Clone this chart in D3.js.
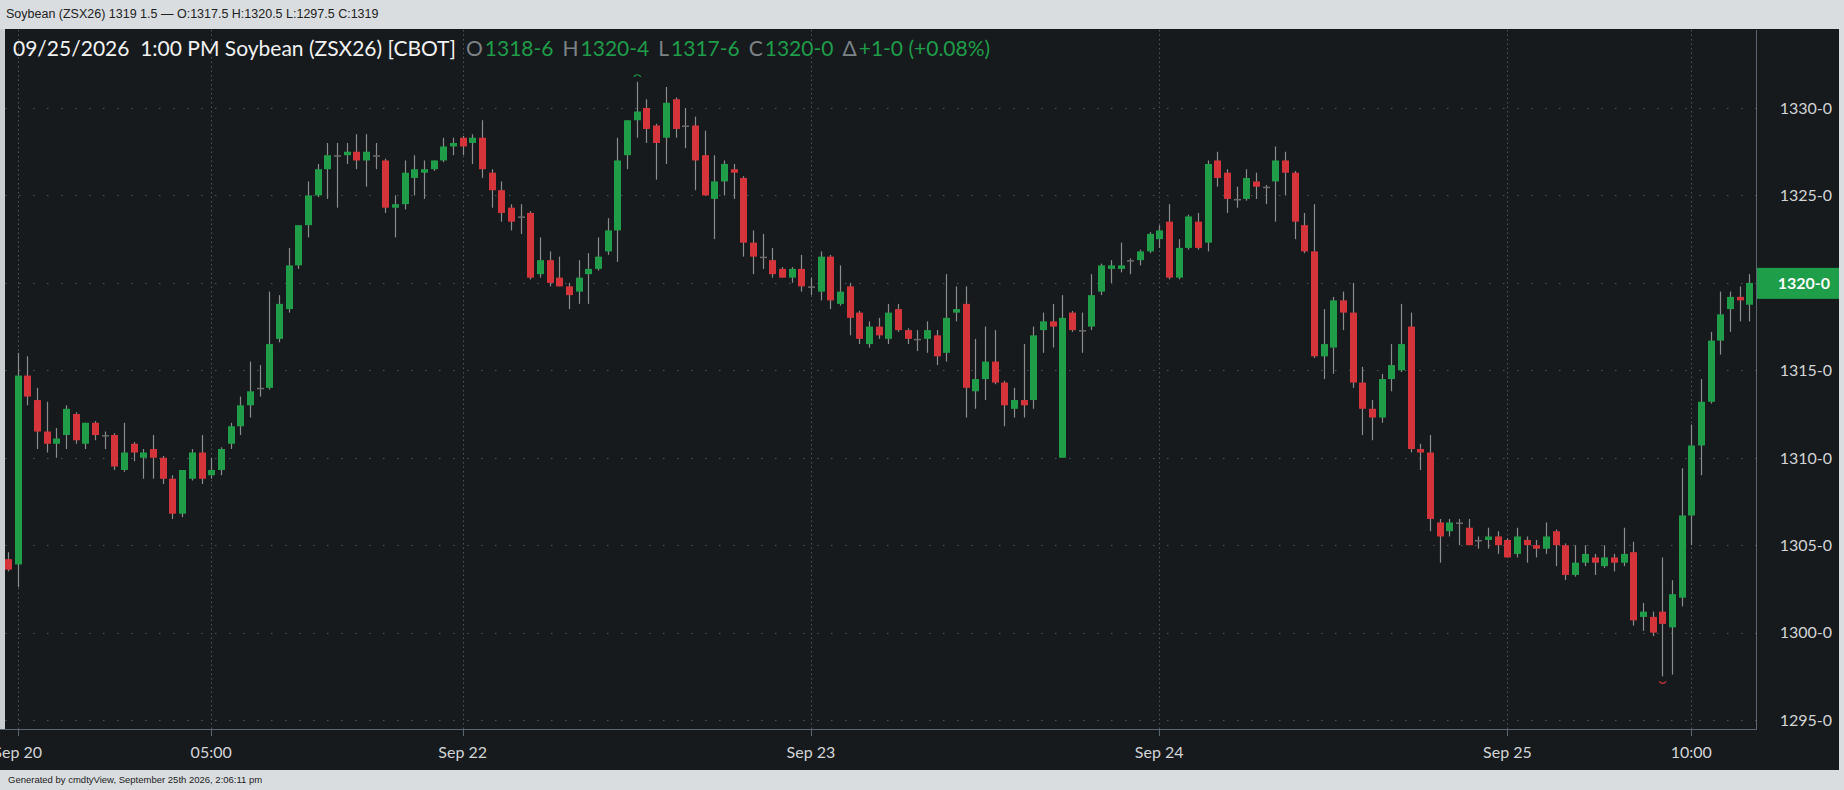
<!DOCTYPE html>
<html>
<head>
<meta charset="utf-8">
<script src="https://cdn.jsdelivr.net/npm/d3@7"></script>
<style>
  body { margin: 0; background: #d9dde0; }
  svg { display: block; }
</style>
</head>
<body>
<svg id="chart" width="1844" height="790"></svg>
<script>
// 30 minute bars, ZSX26
var opens = [1304.2,1303.9,1314.7,1313.3,1311.5,1310.8,1311.3,1312.5,1310.8,1312,1311.3,1311.3,1309.3,1310.8,1310,1310.5,1310,1308.8,1306.8,1308.8,
1310.3,1309,1309.3,1310.8,1311.8,1313,1314,1314,1316.8,1318.5,1321,1323.3,1325,1326.5,1327.3,1327.3,1327.5,1327,1327.3,1327,
1324.3,1324.5,1326,1326.3,1326.5,1327,1327.8,1328.3,1328,1328.3,1326.3,1325.3,1324.3,1323.8,1324,1320.5,1321.3,1320.3,1319.8,1319.5,
1320.5,1320.8,1321.8,1323,1327.3,1329.3,1330,1329,1328.3,1330.5,1329,1329,1327.3,1324.8,1325.8,1326.5,1326,1322.3,1321.5,1321.3,
1320.8,1320.3,1320.8,1319.8,1319.5,1321.5,1318.8,1319.8,1318.3,1316.5,1317.5,1316.8,1318.5,1317.3,1316.8,1316.8,1317,1316,1318.3,1318.8,
1313.8,1314.5,1315.5,1314.3,1312.8,1313.3,1313.3,1317.3,1317.8,1310,1318.3,1317.3,1317.5,1319.5,1320.8,1320.8,1321.3,1321.3,1321.8,1322.5,
1323.5,1320.3,1322,1323.5,1322.3,1327,1326.3,1324.8,1324.8,1325.8,1325.5,1325.8,1327,1326.3,1323.3,1321.8,1315.8,1316.3,1319,1318.3,
1314.3,1312.8,1312.3,1314.5,1315,1317.5,1310.5,1310.3,1306.3,1305.8,1306.3,1306,1305.3,1305.3,1305.5,1305.3,1304.5,1305.3,1305,1304.8,
1305.8,1305,1303.3,1304,1304.3,1303.8,1304.3,1304,1304.6,1300.9,1300.9,1301.2,1300.3,1302,1306.7,1310.7,1313.2,1316.7,1318.5,1319.2,1318.75];
var highs = [1304.6,1316,1315.8,1314,1313.2,1311.7,1313,1312.6,1312,1312.1,1311.5,1311.4,1312,1310.9,1310.5,1311.3,1310.1,1309,1309.3,1310.5,
1311.3,1310,1310.6,1312,1313.5,1315.5,1315.3,1319.5,1319.3,1322,1323.3,1325.8,1326.8,1328,1328,1328,1328.5,1328.5,1328,1327.1,
1325,1327,1327.3,1327,1327,1328.3,1328.3,1328.4,1328.5,1329.3,1326.5,1325.8,1324.5,1324.5,1324.1,1322.6,1321.8,1321.5,1320,1321.3,
1321.7,1322.6,1323.7,1328.3,1329.3,1331.5,1330.5,1329.1,1331.2,1330.6,1330,1329.5,1328.7,1327.3,1327,1326.8,1326.1,1323,1322.8,1322,
1320.9,1320.9,1321.6,1320.3,1321.8,1321.6,1321,1320,1318.4,1317.8,1318,1318.8,1318.8,1317.4,1317.3,1317.8,1317.3,1320.5,1319.8,1319.8,
1316.8,1317.5,1317.3,1314.4,1314,1316.5,1317.5,1318.3,1318.8,1319.3,1318.4,1318.3,1320.5,1321.1,1321.3,1322.3,1321.4,1321.9,1322.9,1323.3,
1324.5,1322.5,1323.9,1324,1327,1327.5,1326.5,1325.5,1326.5,1326.3,1325.6,1327.8,1327.5,1326.4,1324,1324.5,1318.5,1319.2,1319.5,1320,
1315.2,1313.3,1314.8,1316.5,1318.8,1318.3,1310.8,1311.3,1306.5,1306.5,1306.5,1306.5,1305.5,1306,1305.8,1305.4,1306,1305.5,1305.3,1306.3,
1305.9,1305.1,1305,1305,1304.5,1305,1304.5,1306,1305.2,1301.7,1301.2,1304.3,1303,1309.4,1311.9,1314.5,1317.2,1319.5,1319.5,1319.8,1320.5];
var lows = [1303.5,1302.6,1313,1310.5,1310.3,1310,1310.5,1310.8,1310.5,1311,1310.5,1309.3,1309.2,1309.8,1308.8,1308.8,1308.5,1306.5,1306.6,1308.7,
1308.5,1308.8,1309,1310.5,1311.3,1312.3,1313.5,1313.9,1316.6,1318.3,1320.8,1322.6,1324.9,1324.8,1324.3,1326.8,1326.5,1325.5,1326.5,1324,
1322.6,1324.2,1325,1324.8,1326.4,1326.9,1327.3,1327.3,1326.8,1326,1324.3,1323.5,1323,1322.8,1320.2,1320.3,1319.8,1319.8,1318.5,1318.8,
1318.8,1320.7,1321.6,1321.2,1326.5,1328.3,1328,1325.9,1326.8,1328.3,1327.7,1325.3,1325,1322.5,1325,1324.8,1321.5,1320.5,1320.8,1320.3,
1320.3,1320,1319.5,1319.3,1319,1318.5,1318.7,1317,1316.5,1316.3,1316.8,1316.5,1317.2,1316.5,1316.1,1316,1315.3,1315.5,1317.8,1312.3,
1312.8,1313.3,1314.2,1311.8,1312.3,1312.3,1312.8,1316,1316.3,1310,1317.2,1316,1317.3,1319.3,1320,1320.6,1320.5,1321,1321.7,1322,
1320.2,1320.2,1321.9,1321.9,1321.8,1325.5,1324,1324.3,1324.7,1324.8,1324.5,1323.5,1325,1322.5,1321.7,1315.7,1314.5,1314.8,1317.3,1314,
1311.3,1311,1312,1313.8,1314.9,1310.3,1309.3,1305.8,1304,1305.5,1305,1305,1304.8,1304.8,1304.5,1304.3,1304.3,1304,1304.3,1304.5,
1303.8,1303,1303.2,1303.8,1303.3,1303.7,1303.5,1303.8,1300.4,1300.1,1299.8,1297.5,1297.6,1301.5,1305,1309,1313.1,1315.9,1317.2,1317.8,1317.8];
var closes = [1303.6,1314.7,1313.5,1311.5,1310.8,1311.1,1312.8,1311,1312,1311.3,1311.3,1309.5,1310.3,1310.3,1310.3,1310,1308.8,1306.8,1309.3,1310.3,
1308.8,1309.3,1310.5,1311.8,1313,1313.8,1314,1316.5,1318.8,1321,1323.3,1325,1326.5,1327.3,1327.3,1327.5,1327,1327.5,1327.3,1324.3,
1324.5,1326.3,1326.5,1326.5,1327,1327.8,1328,1327.8,1328.3,1326.5,1325.3,1324,1323.5,1323.8,1320.3,1321.3,1320,1319.8,1319.3,1320.3,
1320.8,1321.5,1323,1327,1329.3,1329.8,1328.8,1328,1330.3,1328.8,1329,1327,1325,1325.8,1326.8,1326.3,1322.3,1321.5,1321.5,1320.5,
1320.3,1320.8,1319.8,1319.8,1321.5,1319,1319.5,1318,1316.8,1317.5,1317,1318.3,1317.3,1316.8,1316.8,1317.3,1315.8,1318,1318.5,1314,
1314.5,1315.5,1314.3,1313,1313.3,1313,1317,1317.8,1317.5,1318,1317.3,1317.3,1319.3,1321,1321,1321,1321.3,1321.8,1322.8,1323,
1320.3,1322,1323.8,1322,1326.8,1326,1324.8,1324.8,1326,1325.5,1325.5,1327,1326.3,1323.5,1321.8,1315.8,1316.5,1319,1318.3,1314.3,
1312.8,1312.3,1314.5,1315.3,1316.5,1310.5,1310.3,1306.5,1305.5,1306.3,1306.3,1305,1305.3,1305.5,1305,1304.3,1305.5,1305,1304.8,1305.5,
1305,1303.3,1304,1304.5,1304,1304.3,1304,1304.5,1300.7,1301.2,1300,1300.5,1302.2,1306.7,1310.7,1313.2,1316.7,1318.2,1319.2,1319,1320];

var yTicks = [1295, 1300, 1305, 1310, 1315, 1320, 1325, 1330];
var xTickIdx = [1, 21, 47, 83, 119, 155, 174];
var xTickLabels = ["Sep 20", "05:00", "Sep 22", "Sep 23", "Sep 24", "Sep 25", "10:00"];
var lastPrice = 1320;

var bars = opens.map(function(o, i) {
  return {i: i, o: o, h: highs[i], l: lows[i], c: closes[i]};
});

var GREEN = "#1f9d49", RED = "#d5343b", WICK = "#8b8b8b", GRID = "#4b5560";
var plotL = 5, plotR = 1756, plotT = 30, plotB = 729;

var svg = d3.select("#chart");
svg.append("text").attr("x", 6).attr("y", 18)
  .attr("font-family", "Liberation Sans Narrow, Liberation Sans, sans-serif").attr("font-size", 12.5).attr("fill", "#222")
  .text("Soybean (ZSX26) 1319 1.5 \u2014 O:1317.5 H:1320.5 L:1297.5 C:1319");

svg.append("rect").attr("x", 0).attr("y", 29).attr("width", 1839).attr("height", 741).attr("fill", "#161a1d");

var x = d3.scaleLinear().domain([1, 180]).range([17.7, 1749.3]);
var y = d3.scaleLinear().domain([1294.49, 1334.46]).range([plotB, plotT]);

var clip = svg.append("clipPath").attr("id", "plotclip");
clip.append("rect").attr("x", plotL).attr("y", plotT).attr("width", plotR - plotL).attr("height", plotB - plotT);

// grid
var grid = svg.append("g");
grid.selectAll("line.h").data(yTicks).enter().append("line")
  .attr("x1", plotL).attr("x2", plotR).attr("y1", d => Math.round(y(d)) + 0.5).attr("y2", d => Math.round(y(d)) + 0.5)
  .attr("stroke", GRID).attr("stroke-dasharray", "1.5,12.5");
grid.selectAll("line.v").data(xTickIdx).enter().append("line")
  .attr("y1", plotT).attr("y2", plotB).attr("x1", d => Math.round(x(d)) + 0.5).attr("x2", d => Math.round(x(d)) + 0.5)
  .attr("stroke", GRID).attr("stroke-dasharray", "1.5,3");

// candles
var g = svg.append("g").attr("clip-path", "url(#plotclip)");
var bw = 7;
g.selectAll("line.wick").data(bars).enter().append("line")
  .attr("x1", d => Math.round(x(d.i)) + 0.5).attr("x2", d => Math.round(x(d.i)) + 0.5)
  .attr("y1", d => y(d.h)).attr("y2", d => y(d.l))
  .attr("stroke", WICK).attr("stroke-width", 1.2);
g.selectAll("rect.body").data(bars).enter().append("rect")
  .attr("x", d => Math.round(x(d.i)) + 0.5 - bw / 2)
  .attr("width", bw)
  .attr("y", d => y(Math.max(d.o, d.c)))
  .attr("height", d => Math.max(1.5, Math.abs(y(d.o) - y(d.c))))
  .attr("fill", d => Math.abs(d.o - d.c) < 0.05 ? "#6c6c6c" : (d.c > d.o ? GREEN : RED));

// high / low markers
var hiIdx = d3.maxIndex(highs), loIdx = d3.minIndex(lows);
svg.append("path")
  .attr("d", "M" + (x(hiIdx) - 3) + "," + (y(highs[hiIdx]) - 5) + " q3.5,-4 7,0")
  .attr("fill", "none").attr("stroke", GREEN).attr("stroke-width", 1.2);
svg.append("path")
  .attr("d", "M" + (x(loIdx) - 3) + "," + (y(lows[loIdx]) + 5) + " q3.5,4 7,0")
  .attr("fill", "none").attr("stroke", RED).attr("stroke-width", 1.2);

// plot frame
svg.append("line").attr("x1", plotR + 0.5).attr("x2", plotR + 0.5).attr("y1", plotT).attr("y2", plotB)
  .attr("stroke", "#5b6670");
svg.append("line").attr("x1", 0).attr("x2", plotR + 1).attr("y1", plotB + 0.5).attr("y2", plotB + 0.5)
  .attr("stroke", "#5b6670");

// y axis labels
svg.append("g").selectAll("text").data(yTicks).enter().append("text")
  .attr("x", 1832).attr("y", d => y(d)).attr("dy", "0.36em").attr("text-anchor", "end")
  .attr("font-family", "Lato, sans-serif").attr("font-size", 16).attr("fill", "#d2d4d6")
  .text(d => d + "-0");

// x axis
var xa = svg.append("g");
xa.selectAll("line").data(xTickIdx).enter().append("line")
  .attr("x1", d => Math.round(x(d)) + 0.5).attr("x2", d => Math.round(x(d)) + 0.5)
  .attr("y1", plotB).attr("y2", plotB + 7).attr("stroke", "#5b6670");
xa.selectAll("text").data(xTickIdx).enter().append("text")
  .attr("x", d => x(d)).attr("y", 758).attr("text-anchor", "middle")
  .attr("font-family", "Lato, sans-serif").attr("font-size", 16).attr("fill", "#d2d4d6")
  .text((d, i) => xTickLabels[i]);

// last price tag
svg.append("rect").attr("x", plotR + 1).attr("y", y(lastPrice) - 15).attr("width", 82).attr("height", 31).attr("fill", "#1e9e48");
svg.append("text").attr("x", 1830).attr("y", y(lastPrice)).attr("dy", "0.36em").attr("text-anchor", "end")
  .attr("font-family", "Lato, sans-serif").attr("font-size", 16).attr("font-weight", "bold").attr("fill", "#fff")
  .text(lastPrice + "-0");

// left strip
svg.append("rect").attr("x", 0).attr("y", 29).attr("width", plotL).attr("height", plotB - 29).attr("fill", "#c9cdd0");

// header
var head = svg.append("text").attr("x", 13).attr("y", 56)
  .attr("font-family", "Lato, sans-serif").attr("font-size", 21);
var parts = [
  ["09/25/2026\u00a0\u00a01:00 PM Soybean (ZSX26) [CBOT]", "#f2f2f2", 0],
  ["O", "#7d8287", 10], ["1318-6", GREEN, 2], ["H", "#7d8287", 9], ["1320-4", GREEN, 2],
  ["L", "#7d8287", 9], ["1317-6", GREEN, 2], ["C", "#7d8287", 9], ["1320-0", GREEN, 2],
  ["\u0394", "#7d8287", 9], ["+1-0 (+0.08%)", GREEN, 2]
];
parts.forEach(function(p) { head.append("tspan").attr("dx", p[2]).attr("fill", p[1]).text(p[0]); });

svg.append("text").attr("x", 8).attr("y", 783)
  .attr("font-family", "Liberation Sans, sans-serif").attr("font-size", 9.5).attr("fill", "#222")
  .text("Generated by cmdtyView, September 25th 2026, 2:06:11 pm");
</script>
</body>
</html>
